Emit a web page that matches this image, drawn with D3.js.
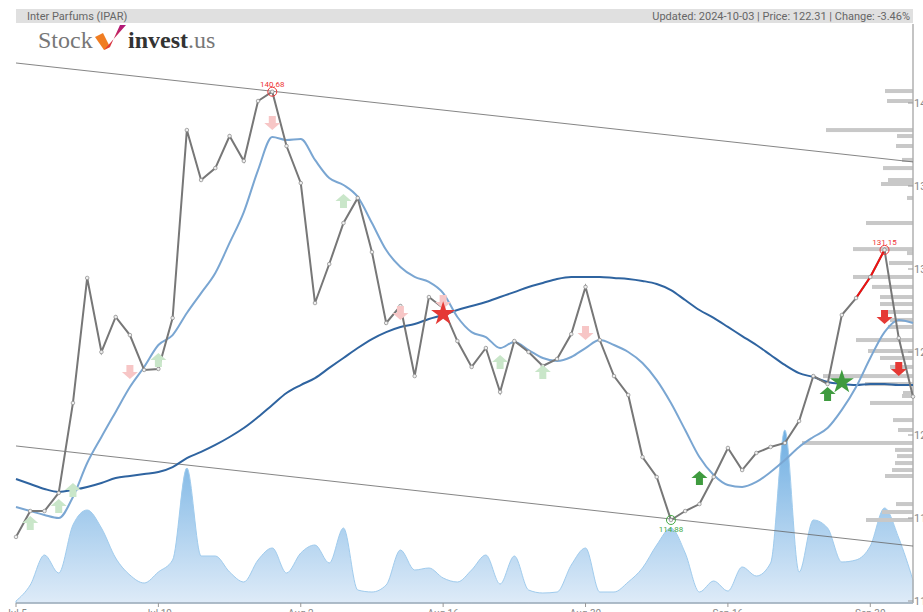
<!DOCTYPE html>
<html>
<head>
<meta charset="utf-8">
<script src="https://cdn.jsdelivr.net/npm/d3@7/dist/d3.min.js"></script>
<style>
  body { margin: 0; background: #fff; }
  svg { display: block; }
</style>
</head>
<body>
<div id="chart"></div>
<script>
// ---- data (trading days Jul 5 .. Oct 3, 2024) ----
var tickIndex = [0, 10, 20, 30, 40, 50, 60];
var tickLabels = ['Jul 5', 'Jul 19', 'Aug 2', 'Aug 16', 'Aug 30', 'Sep 16', 'Sep 30'];
var priceTicks = [110, 115, 120, 125, 130, 135, 140];

var closes = [113.86, 115.42, 115.42, 116.51, 121.93, 129.46, 125.00, 127.11, 126.02, 123.92,
  123.98, 127.05, 138.37, 135.36, 136.08, 138.01, 136.51, 140.12, 140.68, 137.41,
  135.18, 127.95, 130.30, 132.77, 134.28, 131.02, 126.75, 127.77, 123.55, 128.31,
  127.65, 125.66, 124.10, 125.24, 122.59, 125.66, 125.00, 124.16, 124.58, 126.08,
  128.92, 125.72, 123.55, 122.41, 118.67, 117.47, 114.88, 115.42, 115.84, 117.47,
  119.22, 117.89, 118.92, 119.28, 119.52, 120.84, 123.55, 123.07, 127.23, 128.25,
  129.52, 131.15, 125.84, 122.31];

var maShort = [115.66, 115.42, 115.18, 115.00, 116.27, 118.31, 119.88, 121.39, 122.89, 124.10,
  125.42, 126.02, 127.35, 128.55, 129.76, 131.57, 133.43, 135.96, 137.95, 137.77,
  137.83, 136.57, 135.48, 135.06, 134.34, 132.77, 131.14, 130.12, 129.52, 129.22,
  128.55, 127.11, 126.20, 125.90, 125.24, 125.60, 125.12, 124.64, 124.46, 124.70,
  125.24, 125.72, 125.42, 125.00, 124.34, 123.31, 121.93, 120.30, 118.67, 117.59,
  116.99, 116.87, 117.17, 117.77, 118.49, 119.28, 119.88, 120.42, 121.51, 122.89,
  124.64, 126.20, 126.93, 126.75];

var maLong = [117.35, 117.05, 116.75, 116.57, 116.69, 116.87, 117.11, 117.41, 117.53, 117.65,
  117.77, 118.07, 118.61, 118.98, 119.40, 119.88, 120.42, 121.08, 121.81, 122.53,
  123.01, 123.43, 124.04, 124.64, 125.24, 125.78, 126.20, 126.51, 126.69, 126.99,
  127.23, 127.53, 127.77, 128.01, 128.31, 128.61, 128.92, 129.16, 129.40, 129.52,
  129.52, 129.52, 129.46, 129.40, 129.28, 129.10, 128.73, 128.13, 127.53, 127.05,
  126.51, 125.96, 125.42, 124.82, 124.22, 123.73, 123.49, 123.19, 123.07, 123.01,
  123.07, 123.07, 123.01, 123.01];

// volume, thousands of shares
var volume = [4, 36, 96, 60, 156, 186, 150, 90, 56, 40,
  62, 86, 270, 94, 94, 62, 42, 86, 110, 60,
  100, 116, 80, 150, 26, 22, 36, 106, 66, 70,
  50, 42, 66, 96, 38, 94, 26, 20, 22, 76,
  110, 22, 22, 42, 70, 116, 150, 100, 22, 44,
  24, 72, 54, 80, 346, 62, 166, 150, 82, 86,
  114, 190, 130, 46];

// volume at price (right side histogram)
var vbpPrice = [140.72, 140.12, 138.37, 138.01, 137.41, 136.57, 136.08, 135.36, 135.12, 134.28,
  132.77, 131.20, 130.96, 130.36, 129.52, 128.92, 128.31, 127.89, 127.41, 126.93,
  126.51, 125.72, 125.06, 124.64, 124.10, 123.55, 123.07, 122.53, 122.35, 121.93,
  120.90, 120.30, 119.52, 119.10, 118.73, 118.31, 117.89, 117.53, 115.84, 115.36, 114.88];
var vbpVolume = [28, 26, 87, 16, 17, 11, 30, 25, 32, 6,
  47, 60, 6, 24, 60, 41, 33, 33, 30, 23,
  25, 57, 45, 33, 23, 90, 48, 10, 11, 43,
  20, 15, 111, 18, 16, 18, 21, 28, 17, 31, 47];

// trend channel [index, price]
var upperTrend = [[0, 142.41], [63, 136.45]];
var lowerTrend = [[0, 119.34], [63, 113.31]];

// signals: index, price level, kind
var sigIndex = [1, 3, 4, 10, 23, 34, 37, 8, 18, 27, 30, 40, 48, 57, 61, 62, 30, 58];
var sigPrice = [114.70, 115.72, 116.69, 124.52, 134.10, 124.40, 123.80, 123.80, 138.80, 127.35,
  128.01, 126.14, 117.41, 122.47, 127.11, 123.98, 127.29, 123.19];
var sigKind = ['upFaint', 'upFaint', 'upFaint', 'upFaint', 'upFaint', 'upFaint', 'upFaint',
  'downFaint', 'downFaint', 'downFaint', 'downFaint', 'downFaint',
  'up', 'up', 'down', 'down', 'starRed', 'starGreen'];

var redRun = [59, 61];
var highs = [18, 61];
var lows = [46];

// ---- layout ----
var W = 923, H = 612;

var svg = d3.select('#chart').append('svg')
  .attr('width', W)
  .attr('height', H);

var x = d3.scaleLinear().domain([0, 63]).range([16, 913]);
var y = d3.scaleLinear().domain([110, 140]).range([601, 103]);
var vy = d3.scaleLinear().domain([0, d3.max(volume)]).range([603, 430]);
var vbpW = d3.scaleLinear().domain([0, d3.max(vbpVolume)]).range([0, 111]);

var defs = svg.append('defs');
var grad = defs.append('linearGradient')
  .attr('id', 'volGrad')
  .attr('gradientUnits', 'userSpaceOnUse')
  .attr('x1', 0).attr('y1', 430).attr('x2', 0).attr('y2', 603);
grad.append('stop').attr('offset', '0%').attr('stop-color', '#6eaee2');
grad.append('stop').attr('offset', '100%').attr('stop-color', '#deebf8');

var logoGrad = defs.append('linearGradient')
  .attr('id', 'logoGrad')
  .attr('x1', 0).attr('y1', 1).attr('x2', 0).attr('y2', 0);
logoGrad.append('stop').attr('offset', '0%').attr('stop-color', '#e8432e');
logoGrad.append('stop').attr('offset', '100%').attr('stop-color', '#b0177c');

// header band
svg.append('rect')
  .attr('x', 16).attr('y', 9)
  .attr('width', 897).attr('height', 14)
  .attr('fill', '#e0e0e0');
svg.append('text')
  .attr('x', 27).attr('y', 20)
  .style('font', '11px Roboto, sans-serif')
  .attr('fill', '#666')
  .text('Inter Parfums (IPAR)');
svg.append('text')
  .attr('x', 910).attr('y', 20)
  .attr('text-anchor', 'end')
  .style('font', '11px Roboto, sans-serif')
  .attr('fill', '#666')
  .text('Updated: 2024-10-03 | Price: 122.31 | Change: -3.46%');

// logo
var logo = svg.append('g');
logo.append('text')
  .attr('x', 38).attr('y', 48)
  .style('font', '24px "Liberation Serif", serif')
  .attr('fill', '#777')
  .text('Stock');
logo.append('polygon')
  .attr('points', '95,37 103,33 110,47 104,50')
  .attr('fill', '#f07d22');
logo.append('polygon')
  .attr('points', '104,50 110,47 120,25 126,25')
  .attr('fill', 'url(#logoGrad)');
var inv = logo.append('text')
  .attr('x', 128).attr('y', 48)
  .style('font', '24px "Liberation Serif", serif');
inv.append('tspan').attr('font-weight', 'bold').attr('fill', '#333').text('invest');
inv.append('tspan').attr('fill', '#777').text('.us');

// volume area
var area = d3.area()
  .x(function (d, i) { return x(i); })
  .y0(603)
  .y1(function (d) { return vy(d); })
  .curve(d3.curveMonotoneX);
svg.append('path')
  .datum(volume)
  .attr('d', area)
  .attr('fill', 'url(#volGrad)')
  .attr('stroke', '#9fcbed')
  .attr('stroke-width', 1);

// volume at price bars
svg.selectAll('rect.vbp')
  .data(vbpPrice)
  .enter().append('rect')
  .attr('class', 'vbp')
  .attr('x', function (d, i) { return 913 - vbpW(vbpVolume[i]); })
  .attr('y', function (d) { return y(d) - 2; })
  .attr('width', function (d, i) { return vbpW(vbpVolume[i]); })
  .attr('height', 4)
  .attr('fill', '#c8c8c8');

// axes
svg.append('line')
  .attr('x1', 16).attr('x2', 913).attr('y1', 603).attr('y2', 603)
  .attr('stroke', '#a3aeb8').attr('stroke-width', 1.5);
svg.append('line')
  .attr('x1', 913).attr('x2', 913).attr('y1', 24).attr('y2', 603)
  .attr('stroke', '#b0b0b0').attr('stroke-width', 1.5);

svg.selectAll('line.xt')
  .data(tickIndex)
  .enter().append('line')
  .attr('x1', function (d) { return x(d); })
  .attr('x2', function (d) { return x(d); })
  .attr('y1', 603).attr('y2', 607)
  .attr('stroke', '#999');
svg.selectAll('text.xl')
  .data(tickIndex)
  .enter().append('text')
  .attr('x', function (d) { return x(d); })
  .attr('y', 617)
  .attr('text-anchor', 'middle')
  .style('font', '10px Roboto, sans-serif')
  .attr('fill', '#888')
  .text(function (d, i) { return tickLabels[i]; });

svg.selectAll('line.yt')
  .data(priceTicks)
  .enter().append('line')
  .attr('x1', 908).attr('x2', 913)
  .attr('y1', function (d) { return y(d); })
  .attr('y2', function (d) { return y(d); })
  .attr('stroke', '#999');
svg.selectAll('text.yl')
  .data(priceTicks)
  .enter().append('text')
  .attr('x', 914)
  .attr('y', function (d) { return y(d) + 4; })
  .style('font', '11px Roboto, sans-serif')
  .attr('fill', '#888')
  .text(function (d) { return d; });

// trend channel
[upperTrend, lowerTrend].forEach(function (t) {
  svg.append('line')
    .attr('x1', x(t[0][0])).attr('y1', y(t[0][1]))
    .attr('x2', x(t[1][0])).attr('y2', y(t[1][1]))
    .attr('stroke', '#666').attr('stroke-width', 0.8);
});

// moving averages
var maLine = d3.line()
  .x(function (d, i) { return x(i); })
  .y(function (d) { return y(d); })
  .curve(d3.curveMonotoneX);
svg.append('path').datum(maLong).attr('d', maLine)
  .attr('fill', 'none').attr('stroke', '#2f64a0').attr('stroke-width', 2);
svg.append('path').datum(maShort).attr('d', maLine)
  .attr('fill', 'none').attr('stroke', '#7aa6d2').attr('stroke-width', 2);

// price
var priceLine = d3.line()
  .x(function (d) { return x(d); })
  .y(function (d) { return y(closes[d]); });
svg.append('path').datum(d3.range(closes.length)).attr('d', priceLine)
  .attr('fill', 'none').attr('stroke', '#777').attr('stroke-width', 2);
svg.append('path').datum(d3.range(redRun[0], redRun[1] + 1)).attr('d', priceLine)
  .attr('fill', 'none').attr('stroke', '#ee1111').attr('stroke-width', 2);

svg.selectAll('circle.pt')
  .data(closes)
  .enter().append('circle')
  .attr('class', 'pt')
  .attr('cx', function (d, i) { return x(i); })
  .attr('cy', function (d) { return y(d); })
  .attr('r', 1.8)
  .attr('fill', '#eee')
  .attr('stroke', '#888')
  .attr('stroke-width', 0.7);

// high / low markers
function mark(idx, color, above) {
  svg.append('circle')
    .attr('cx', x(idx)).attr('cy', y(closes[idx]))
    .attr('r', 4.5)
    .attr('fill', 'none').attr('stroke', color).attr('stroke-width', 1);
  svg.append('text')
    .attr('x', x(idx))
    .attr('y', above ? y(closes[idx]) - 5 : y(closes[idx]) + 12)
    .attr('text-anchor', 'middle')
    .style('font', '8px Roboto, sans-serif')
    .attr('fill', color)
    .text(closes[idx].toFixed(2));
}
highs.forEach(function (i) { mark(i, '#ee3333', true); });
lows.forEach(function (i) { mark(i, '#44aa44', false); });

// signals
var arrowUp = 'M0,-7 L8,0 L3.5,0 L3.5,7 L-3.5,7 L-3.5,0 L-8,0 Z';
var arrowDown = 'M0,7 L8,0 L3.5,0 L3.5,-7 L-3.5,-7 L-3.5,0 L-8,0 Z';
var kindStyle = {
  upFaint: [arrowUp, '#c9e6c9'],
  downFaint: [arrowDown, '#f7c6c6'],
  up: [arrowUp, '#3f9b3f'],
  down: [arrowDown, '#e53935'],
  starRed: [d3.symbol().type(d3.symbolStar).size(180)(), '#e53935'],
  starGreen: [d3.symbol().type(d3.symbolStar).size(180)(), '#3f9b3f']
};
svg.selectAll('path.sig')
  .data(sigIndex)
  .enter().append('path')
  .attr('class', 'sig')
  .attr('transform', function (d, i) { return 'translate(' + x(d) + ',' + y(sigPrice[i]) + ')'; })
  .attr('d', function (d, i) { return kindStyle[sigKind[i]][0]; })
  .attr('fill', function (d, i) { return kindStyle[sigKind[i]][1]; });
</script>
</body>
</html>
